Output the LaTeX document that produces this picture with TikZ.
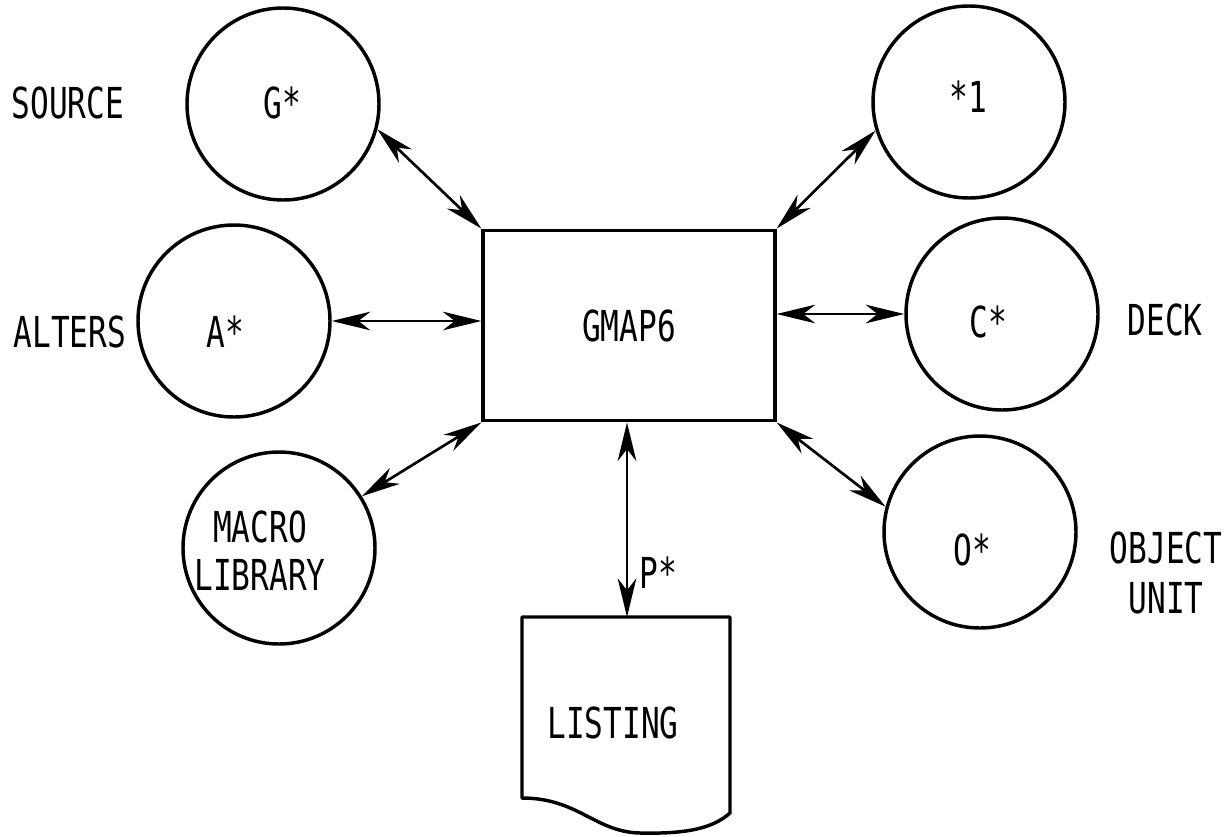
\documentclass[tikz,border=0pt]{standalone}
\usepackage{fontspec}
\newfontfamily\lblfont[FakeStretch=0.73]{DejaVu Sans Mono}
\usetikzlibrary{arrows.meta}
\begin{document}
\begin{tikzpicture}[x=0.75pt,y=-0.75pt,
  dev/.style={circle, draw, line width=2.6pt, minimum size=144pt, inner sep=0pt},
  lbl/.style={font={\lblfont\fontsize{32pt}{36pt}\selectfont}, inner sep=0pt, align=center},
  procbox/.style={rectangle, draw, line width=2.4pt, minimum width=219pt, minimum height=143pt, inner sep=0pt,
    font={\lblfont\fontsize{32pt}{36pt}\selectfont}},
  link/.style={line width=2pt, {Stealth[length=29pt,width=14pt,inset=9pt]}-{Stealth[length=29pt,width=14pt,inset=9pt]}},
  paper/.style={line width=2.6pt, line join=round}
]
\useasboundingbox (0,0) rectangle (1231,836);

% central program box
\node[procbox] (box) at (629,325.5) {GMAP6};

% devices
\node[dev] (G)  at (283,104) {};
\node[dev] (A)  at (234,321) {};
\node[dev] (M)  at (279,548) {};
\node[dev] (S1) at (969,102) {};
\node[dev] (C)  at (1002,314) {};
\node[dev] (O)  at (980,532) {};

% labels inside devices
\node[lbl] (tG)  at (282,103) {G*};
\node[lbl] (tA)  at (225,332) {A*};
\node[lbl] (tM)  at (260,551) {MACRO\\LIBRARY};
\node[lbl] (tS1) at (968,97)  {*1};
\node[lbl] (tC)  at (988,322) {C*};
\node[lbl] (tO)  at (972,550) {O*};

% outside labels
\node[lbl] (source) at (68,103)   {SOURCE};
\node[lbl] (alters) at (70,332)   {ALTERS};
\node[lbl] (deck)   at (1165,320) {DECK};
\node[lbl, font={\lblfont\fontsize{32pt}{37.5pt}\selectfont}] (objunit) at (1166,573) {OBJECT\\UNIT};

% listing (document shape)
\coordinate (Ltop) at (627,617);
\draw[paper] (522,798) -- (522,617) -- (730,617) -- (730,813)
  .. controls (712,829) and (685,834) .. (640,833)
  .. controls (595,832) and (578,798) .. (522,798) -- cycle;
\node[lbl] (listing) at (613,723) {LISTING};
\node[lbl] (pstar) at (658,573) {P*};

% connectors
\draw[link] (G.-15) -- (box.north west);
\draw[link] (A.east) -- (A.east -| box.west);
\draw[link] (M.32) -- (box.south west);
\draw[link] (S1.197) -- (box.north east);
\draw[link] (C.west) -- (C.west -| box.east);
\draw[link] (O.165) -- (box.south east);
\draw[link] (Ltop |- box.south) -- (Ltop);
\end{tikzpicture}
\end{document}
